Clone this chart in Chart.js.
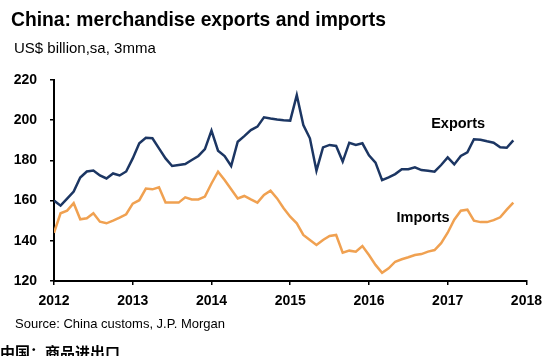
<!DOCTYPE html>
<html>
<head>
<meta charset="utf-8">
<script src="https://cdn.jsdelivr.net/npm/chart.js@4.4.1/dist/chart.umd.min.js"></script>
<style>
html,body{margin:0;padding:0;background:#fff;width:550px;height:356px;overflow:hidden}
#wrap{position:relative;width:550px;height:356px}
canvas{position:absolute;left:0;top:0}
.t{position:absolute;white-space:nowrap;line-height:1;font-family:"Liberation Sans",Arial,sans-serif;color:#000}
</style>
</head>
<body>
<div id="wrap">
<canvas id="c" width="550" height="356"></canvas>
<div class="t" style="left:11px;top:10px;font-size:19.3px;font-weight:bold">China: merchandise exports and imports</div>
<div class="t" style="left:14px;top:40px;font-size:15px">US$ billion,sa, 3mma</div>
<div class="t" style="left:15px;top:317px;font-size:13px">Source: China customs, J.P. Morgan</div>
<div class="t" style="left:0px;top:344px;font-size:15px;font-weight:bold;font-family:'Noto Sans CJK SC',sans-serif">中国：商品进出口</div>
</div>
<script>
// Monthly data, Jan 2012 .. Nov 2017 (3mma, US$ bn, sa)
const startYear = 2012;
const exportsValues = [
  160, 157.5, 161, 164.5, 171.5, 174.5, 175, 172.5, 171, 173.5, 172.5, 174.5,
  181, 188.5, 191.3, 191, 186, 181, 177.2, 177.7, 178.2, 180.2, 182.2, 185.6,
  194.8, 184.8, 182.2, 177.2, 189.3, 192.1, 195.1, 196.8, 201.4, 200.8, 200.3, 200,
  199.8, 212.5, 197.6, 191, 174.9, 186.5, 187.7, 187.2, 179.4, 188.8, 187.7, 188.5,
  182.5, 178.9, 170.2, 171.6, 173.2, 175.6, 175.6, 176.6, 175.2, 174.9, 174.4, 177.7,
  181.5, 178, 182.2, 184, 190.5, 190.3, 189.5, 188.8, 186.5, 186.3, 190
];
const importsValues = [
  144, 153.7, 155, 158.7, 150.7, 151.2, 153.7, 149.5, 148.7, 150, 151.5, 153.2,
  158.5, 160.2, 166, 165.6, 166.6, 159, 159, 159, 161.6, 160.6, 160.6, 162,
  168.5, 174.4, 170.2, 165.6, 161.1, 162.3, 160.6, 159, 162.8, 164.9, 161.1, 156.2,
  152, 148.7, 142.9, 140.4, 137.9, 140.4, 142.4, 142.9, 134.1, 135.1, 134.6, 137.4,
  132.9, 128, 124.1, 126.3, 129.6, 130.8, 131.8, 132.9, 133.4, 134.6, 135.4, 138.8,
  144, 150.5, 155, 155.5, 150, 149.3, 149.3, 150.3, 151.7, 155.5, 159
];
const yearTicks = [2012, 2013, 2014, 2015, 2016, 2017, 2018];
const valueTicks = [120, 140, 160, 180, 200, 220];
const seriesNames = ['Exports', 'Imports'];
// label anchor points (year, value) for the in-chart series names
const labelAnchors = [[2016.79, 195.9], [2016.35, 149.4]];

const toPoints = vals => vals.map((v, i) => ({x: startYear + i / 12, y: v}));

const labelPlugin = {
  id: 'seriesLabels',
  afterDatasetsDraw(chart) {
    const {ctx, scales: {x, y}} = chart;
    ctx.save();
    ctx.font = 'bold 14.5px "Liberation Sans", Arial, sans-serif';
    ctx.fillStyle = '#000';
    ctx.textAlign = 'left';
    ctx.textBaseline = 'alphabetic';
    seriesNames.forEach((n, i) => {
      ctx.fillText(n, x.getPixelForValue(labelAnchors[i][0]), y.getPixelForValue(labelAnchors[i][1]));
    });
    ctx.restore();
  }
};

new Chart(document.getElementById('c'), {
  type: 'line',
  data: {
    datasets: [
      {label: seriesNames[0], data: toPoints(exportsValues), borderColor: '#1c3663', borderWidth: 2.5, pointRadius: 0, tension: 0, fill: false},
      {label: seriesNames[1], data: toPoints(importsValues), borderColor: '#f0a151', borderWidth: 2.5, pointRadius: 0, tension: 0, fill: false}
    ]
  },
  options: {
    responsive: false,
    animation: false,
    events: [],
    layout: {padding: {top: 80, right: 19, left: 0, bottom: 0}},
    plugins: {legend: {display: false}, tooltip: {enabled: false}, title: {display: false}},
    scales: {
      x: {
        type: 'linear',
        min: yearTicks[0], max: yearTicks[yearTicks.length - 1],
        afterFit: s => { s.height = 75; },
        afterBuildTicks: s => { s.ticks = yearTicks.map(v => ({value: v})); },
        ticks: {
          color: '#000', padding: 8, maxRotation: 0, autoSkip: false,
          font: {family: '"Liberation Sans", Arial, sans-serif', size: 14, weight: 'bold'},
          callback: v => String(v)
        },
        grid: {drawOnChartArea: false, drawTicks: true, tickLength: 4, color: '#000', lineWidth: 1.5},
        border: {display: true, color: '#000', width: 2}
      },
      y: {
        min: valueTicks[0], max: valueTicks[valueTicks.length - 1],
        afterFit: s => { s.width = 54; },
        afterBuildTicks: s => { s.ticks = valueTicks.map(v => ({value: v})); },
        ticks: {
          color: '#000', padding: 13,
          font: {family: '"Liberation Sans", Arial, sans-serif', size: 14, weight: 'bold'}
        },
        grid: {drawOnChartArea: false, drawTicks: true, tickLength: 4, color: '#000', lineWidth: 1.5},
        border: {display: true, color: '#000', width: 2}
      }
    }
  },
  plugins: [labelPlugin]
});
</script>
</body>
</html>
